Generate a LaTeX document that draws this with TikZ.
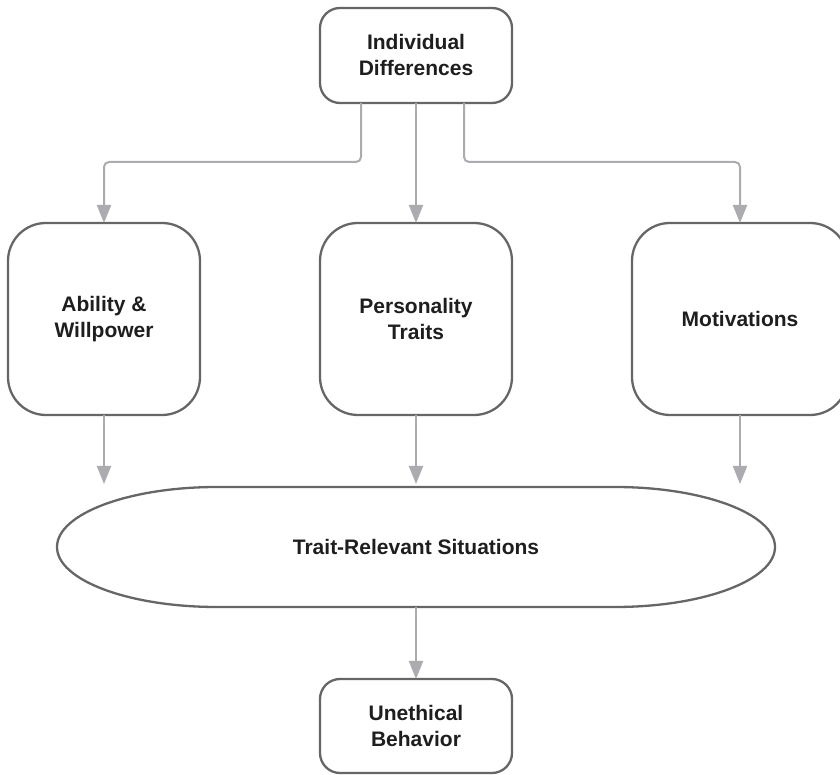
\documentclass[tikz,border=0pt]{standalone}
\usepackage{fontspec}
\setmainfont{Liberation Sans}
\usetikzlibrary{arrows.meta}
\definecolor{boxgray}{HTML}{666666}
\definecolor{conngray}{HTML}{ABABB0}
\definecolor{txt}{HTML}{1E1E1E}
\tikzset{
  box/.style={draw=boxgray, line width=2.3pt, fill=white, align=center, text=txt,
    font=\fontsize{21pt}{26pt}\selectfont\bfseries, inner sep=0pt, outer sep=0pt},
  smallbox/.style={box, rounded corners=20pt, minimum width=192pt, minimum height=95pt},
  bigbox/.style={box, rounded corners=38pt, minimum width=192pt, minimum height=192pt},
  conn/.style={draw=conngray, line width=2pt, -{Triangle[width=14pt,length=18pt]}}
}
\begin{document}
\begin{tikzpicture}[x=1pt,y=1pt]
\useasboundingbox (0,0) rectangle (840,775);
\node[smallbox] (ind) at (416,719.5) {Individual\\Differences};
\node[bigbox] (abil) at (104,456) {Ability \&\\Willpower};
\node[bigbox] (pers) at (416,456) {Personality\\Traits};
\node[bigbox, minimum width=216pt] (motiv) at (740,456) {Motivations};
\node[box, draw=none, fill=none, minimum width=718pt, minimum height=120pt] (sit) at (416,228) {Trait-Relevant Situations};
\draw[draw=boxgray, line width=2.3pt]
  ([xshift=160pt]sit.north west) -- ([xshift=-160pt]sit.north east)
  arc[start angle=90, end angle=-90, x radius=160pt, y radius=60pt]
  -- ([xshift=160pt]sit.south west)
  arc[start angle=270, end angle=90, x radius=160pt, y radius=60pt] -- cycle;
\node[smallbox, minimum height=94pt] (unet) at (416,49) {Unethical\\Behavior};
\draw[conn, rounded corners=5pt] ([xshift=-55pt]ind.south) -- ++(0,-59) -| (abil.north);
\draw[conn] (ind.south) -- (pers.north);
\draw[conn, rounded corners=5pt] ([xshift=48pt]ind.south) -- ++(0,-59) -| (motiv.north);
\draw[conn, shorten >=3pt] (abil.south) -- (abil.south |- sit.north);
\draw[conn, shorten >=3pt] (pers.south) -- (sit.north);
\draw[conn, shorten >=3pt] (motiv.south) -- (motiv.south |- sit.north);
\draw[conn] (sit.south) -- (unet.north);
\end{tikzpicture}
\end{document}
